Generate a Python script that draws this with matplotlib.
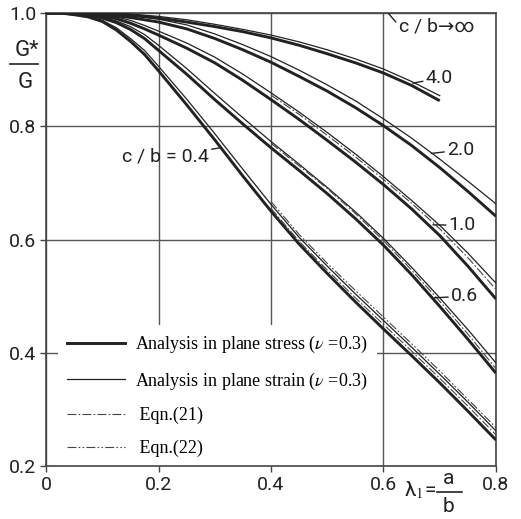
import matplotlib
matplotlib.use('Agg')
import matplotlib.pyplot as plt
from matplotlib.lines import Line2D

plt.rcParams['mathtext.fontset'] = 'stix'

# ── Data ─────────────────────────────────────────────────────────────────────
lam = [0, 0.025, 0.05, 0.075, 0.1, 0.125, 0.15, 0.175, 0.2, 0.25, 0.3,
       0.35, 0.4, 0.45, 0.5, 0.55, 0.6, 0.65, 0.7, 0.75, 0.8]

# c/b = 4.0 stops at lambda = 0.7
lam_4 = lam[:19]
stress_4 = [1.0, 1.0, 1.0, 1.0, 0.999, 0.998, 0.996, 0.994, 0.991, 0.984,
            0.976, 0.967, 0.956, 0.943, 0.928, 0.912, 0.894, 0.872, 0.845]
strain_4 = [1.0, 1.0, 1.0, 1.0, 1.0, 0.999, 0.998, 0.996, 0.994, 0.988,
            0.980, 0.971, 0.961, 0.949, 0.935, 0.919, 0.901, 0.879, 0.854]

stress_2 = [1.0, 1.0, 1.0, 0.999, 0.997, 0.995, 0.992, 0.988, 0.984, 0.972,
            0.955, 0.935, 0.913, 0.888, 0.862, 0.833, 0.801, 0.766, 0.727,
            0.685, 0.641]
strain_2 = [1.0, 1.0, 1.0, 1.0, 0.998, 0.997, 0.995, 0.992, 0.989, 0.979,
            0.963, 0.944, 0.923, 0.899, 0.873, 0.845, 0.813, 0.779, 0.742,
            0.703, 0.663]

stress_1 = [1.0, 1.0, 0.999, 0.998, 0.995, 0.990, 0.982, 0.972, 0.961, 0.938,
            0.912, 0.881, 0.847, 0.812, 0.775, 0.737, 0.697, 0.654, 0.607,
            0.553, 0.495]
strain_1 = [1.0, 1.0, 0.999, 0.999, 0.997, 0.993, 0.987, 0.978, 0.968, 0.947,
            0.922, 0.892, 0.859, 0.825, 0.789, 0.751, 0.711, 0.669, 0.625,
            0.576, 0.523]

stress_06 = [1.0, 1.0, 0.998, 0.996, 0.991, 0.983, 0.971, 0.955, 0.934, 0.892,
             0.847, 0.804, 0.762, 0.722, 0.681, 0.637, 0.590, 0.538, 0.482,
             0.424, 0.364]
strain_06 = [1.0, 1.0, 0.998, 0.997, 0.993, 0.986, 0.976, 0.962, 0.943, 0.902,
             0.858, 0.815, 0.773, 0.733, 0.692, 0.649, 0.602, 0.551, 0.497,
             0.441, 0.382]

stress_04 = [1.0, 1.0, 0.997, 0.993, 0.985, 0.970, 0.950, 0.927, 0.898, 0.838,
             0.776, 0.712, 0.650, 0.592, 0.540, 0.490, 0.442, 0.395, 0.347,
             0.297, 0.246]
strain_04 = [1.0, 1.0, 0.997, 0.994, 0.987, 0.974, 0.955, 0.934, 0.906, 0.848,
             0.787, 0.724, 0.662, 0.604, 0.553, 0.504, 0.457, 0.410, 0.362,
             0.313, 0.262]

# approximate equations, drawn over the part where they are visible
lam_eq = lam[12:]
eq21_04 = [0.655, 0.597, 0.546, 0.497, 0.450, 0.403, 0.355, 0.306, 0.255]
eq22_04 = [0.667, 0.609, 0.558, 0.510, 0.463, 0.416, 0.368, 0.318, 0.268]
eq21_06 = [0.770, 0.730, 0.690, 0.646, 0.598, 0.546, 0.491, 0.433, 0.372]
eq21_1 = [0.855, 0.821, 0.784, 0.746, 0.706, 0.664, 0.619, 0.568, 0.512]

# label text, position, pointer target
curve_labels = ['4.0', '2.0', '1.0', '0.6']
label_pos = [(0.675, 0.885), (0.713, 0.758), (0.716, 0.625), (0.72, 0.50)]
label_tip = [(0.652, 0.876), (0.685, 0.752), (0.688, 0.626), (0.690, 0.497)]

# ── Figure ───────────────────────────────────────────────────────────────────
ink = '#222222'
fig = plt.figure(figsize=(5.21, 5.19), dpi=100)
ax = fig.add_axes([0.0883, 0.102, 0.8637, 0.873])

thick = dict(color=ink, lw=2.1, solid_capstyle='butt', zorder=3)
thin = dict(color=ink, lw=0.9, zorder=3)
d21 = dict(color='#444444', lw=0.8, dashes=(8, 2, 1.5, 2), zorder=3)
d22 = dict(color='#444444', lw=0.8, dashes=(8, 2, 1.5, 2, 1.5, 2), zorder=3)

ax.plot(lam_4, stress_4, **thick)
ax.plot(lam_4, strain_4, **thin)
for s, e in [(stress_2, strain_2), (stress_1, strain_1),
             (stress_06, strain_06), (stress_04, strain_04)]:
    ax.plot(lam, s, **thick)
    ax.plot(lam, e, **thin)
ax.plot(lam_eq, eq21_04, **d21)
ax.plot(lam_eq, eq22_04, **d22)
ax.plot(lam_eq, eq21_06, **d21)
ax.plot(lam_eq, eq21_1, **d21)

ax.set_xlim(0, 0.8)
ax.set_ylim(0.2, 1.0)
ax.set_xticks([0, 0.2, 0.4, 0.6, 0.8])
ax.set_xticklabels(['0', '0.2', '0.4', '0.6', '0.8'])
ax.set_yticks([0.2, 0.4, 0.6, 0.8, 1.0])
ax.set_yticklabels(['0.2', '0.4', '0.6', '0.8', '1.0'])
for t in ax.get_xticklabels() + ax.get_yticklabels():
    t.set_fontfamily('Roboto')
    t.set_fontsize(14)
    t.set_color(ink)
ax.tick_params(length=4, width=1, color='#444444', pad=3)
ax.grid(True, color='#555555', lw=1.0)
for sp in ax.spines.values():
    sp.set_color('#444444')
    sp.set_linewidth(1.2)

# curve labels with little pointer strokes
for txt, (tx, ty), (px, py) in zip(curve_labels, label_pos, label_tip):
    ax.annotate(txt, xy=(px, py), xytext=(tx, ty), va='center', ha='left',
                fontfamily='Roboto', fontsize=14, color=ink,
                arrowprops=dict(arrowstyle='-', color=ink, lw=1.0,
                                shrinkA=0, shrinkB=0))
ax.annotate('c / b = 0.4', xy=(0.31, 0.762), xytext=(0.135, 0.746),
            va='center', ha='left', fontfamily='Roboto', fontsize=14, color=ink,
            arrowprops=dict(arrowstyle='-', color=ink, lw=1.0, shrinkA=0, shrinkB=0))
ax.text(0.628, 0.977, 'c / b\u2192\u221e', va='center', ha='left',
        fontfamily=['Roboto', 'DejaVu Sans'], fontsize=14, color=ink)
ax.annotate('', xy=(0.609, 0.999), xytext=(0.622, 0.984),
            arrowprops=dict(arrowstyle='-', color=ink, lw=1.0, shrinkA=0, shrinkB=0))

# axis titles written as stacked fractions
fig.text(27 / 521, 1 - 50 / 519, 'G*', ha='center', va='center',
         fontfamily='Roboto', fontsize=16, color=ink)
fig.text(25 / 521, 1 - 82 / 519, 'G', ha='center', va='center',
         fontfamily='Roboto', fontsize=16, color=ink)
fig.add_artist(Line2D([10 / 521, 38 / 521], [1 - 64 / 519, 1 - 64 / 519],
                      color=ink, lw=1.2))
fig.text(420 / 521, 1 - 490 / 519, '\u03bb$_1$=', ha='center', va='center',
         fontfamily='Roboto', fontsize=15, color=ink)
fig.text(449 / 521, 1 - 478 / 519, 'a', ha='center', va='center',
         fontfamily='Roboto', fontsize=15, color=ink)
fig.text(449 / 521, 1 - 506 / 519, 'b', ha='center', va='center',
         fontfamily='Roboto', fontsize=15, color=ink)
fig.add_artist(Line2D([437 / 521, 462 / 521], [1 - 492 / 519, 1 - 492 / 519],
                      color=ink, lw=1.2))

# legend sitting on a white patch that hides the grid underneath
handles = [Line2D([], [], color=ink, lw=2.1),
           Line2D([], [], color=ink, lw=0.9),
           Line2D([], [], color='#444444', lw=0.8, dashes=(8, 2, 1.5, 2)),
           Line2D([], [], color='#444444', lw=0.8, dashes=(8, 2, 1.5, 2, 1.5, 2))]
labels = ['Analysis in plane stress ($\\nu$ =0.3)',
          'Analysis in plane strain ($\\nu$ =0.3)',
          ' Eqn.(21)', ' Eqn.(22)']
leg = ax.legend(handles, labels, loc='lower left', bbox_to_anchor=(0.006, -0.02),
                prop=dict(family='Liberation Serif', size=13),
                frameon=True, facecolor='white', edgecolor='none', framealpha=1,
                handlelength=3.2, handletextpad=0.6, labelspacing=0.85,
                borderpad=0.5)
leg.set_zorder(2)

fig.savefig('out.png', dpi=100)
